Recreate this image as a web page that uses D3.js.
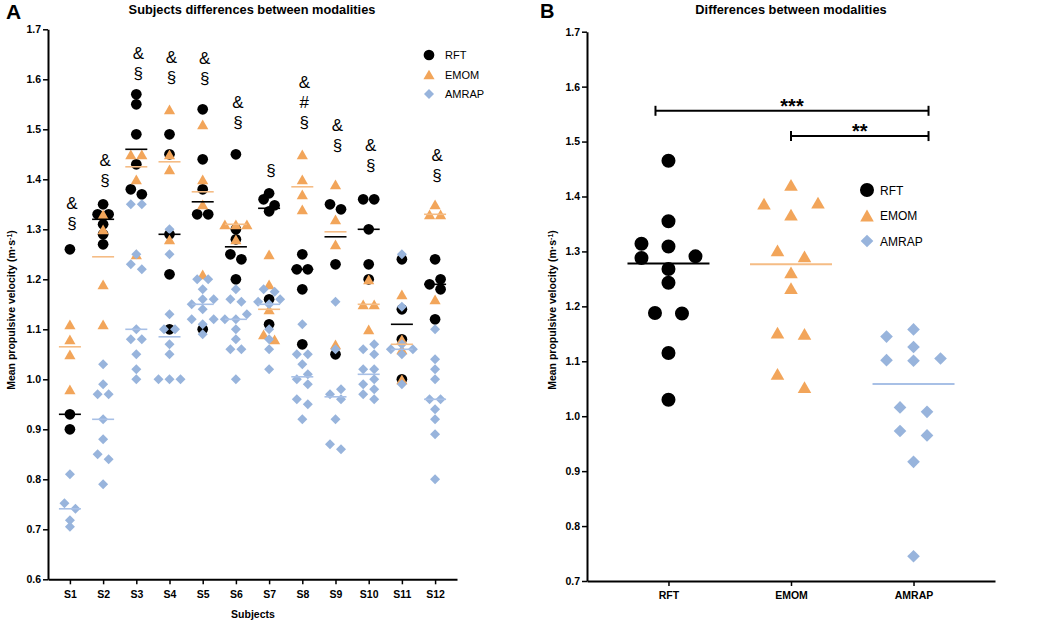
<!DOCTYPE html>
<html><head><meta charset="utf-8">
<script src="https://cdn.jsdelivr.net/npm/d3@7"></script>
<style>body{margin:0;background:#fff} svg{display:block}</style>
</head><body><svg id="c" width="1059" height="622"></svg>
<script>
// ---------------- DATA ----------------
const subjects = ["S1","S2","S3","S4","S5","S6","S7","S8","S9","S10","S11","S12"];
const rftA = [
  [1.26, 0.93, 0.90],
  [1.35, 1.33, 1.33, 1.31, 1.29, 1.27],
  [1.57, 1.55, 1.49, 1.43, 1.38, 1.37],
  [1.49, 1.45, 1.29, 1.21, 1.10],
  [1.54, 1.44, 1.38, 1.33, 1.33, 1.10],
  [1.45, 1.30, 1.28, 1.25, 1.24, 1.20],
  [1.372, 1.36, 1.348, 1.336, 1.16, 1.11],
  [1.25, 1.22, 1.22, 1.18, 1.07],
  [1.35, 1.34, 1.23, 1.05],
  [1.36, 1.36, 1.30, 1.23, 1.20],
  [1.24, 1.14, 1.08, 1.00],
  [1.24, 1.20, 1.19, 1.18, 1.12]
];
const emomA = [
  [1.11, 1.08, 1.05, 0.98],
  [1.33, 1.30, 1.19, 1.11],
  [1.45, 1.45, 1.40, 1.25],
  [1.54, 1.45, 1.42, 1.28],
  [1.51, 1.40, 1.35, 1.21],
  [1.31, 1.31, 1.31, 1.28],
  [1.25, 1.19, 1.14, 1.09, 1.08],
  [1.45, 1.40, 1.37, 1.34],
  [1.39, 1.32, 1.27, 1.07],
  [1.20, 1.15, 1.15, 1.10],
  [1.17, 1.08, 1.06, 1.00],
  [1.35, 1.33, 1.33, 1.16]
];
const amrapA = [
  [0.81, 0.752, 0.741, 0.718, 0.705],
  [1.03, 0.99, 0.97, 0.97, 0.92, 0.88, 0.85, 0.84, 0.79],
  [1.35, 1.35, 1.25, 1.23, 1.22, 1.10, 1.08, 1.08, 1.05, 1.02, 1.00],
  [1.30, 1.25, 1.13, 1.10, 1.10, 1.07, 1.05, 1.00, 1.00, 1.00],
  [1.20, 1.20, 1.18, 1.16, 1.16, 1.15, 1.14, 1.12, 1.12, 1.11, 1.09],
  [1.18, 1.16, 1.155, 1.13, 1.12, 1.12, 1.10, 1.08, 1.06, 1.06, 1.00],
  [1.18, 1.175, 1.16, 1.155, 1.15, 1.10, 1.08, 1.06, 1.02],
  [1.11, 1.05, 1.05, 1.03, 1.01, 1.00, 0.99, 0.96, 0.95, 0.92],
  [1.155, 1.06, 0.98, 0.97, 0.96, 0.92, 0.87, 0.86],
  [1.07, 1.06, 1.05, 1.02, 1.02, 1.00, 0.99, 0.98, 0.97, 0.96],
  [1.25, 1.145, 1.07, 1.06, 1.06, 1.05, 0.99],
  [1.10, 1.04, 1.02, 1.00, 0.96, 0.96, 0.94, 0.92, 0.89, 0.80]
];
const sigA = [["&","§"],["&","§"],["&","§"],["&","§"],["&","§"],["&","§"],["§"],["&","#","§"],["&","§"],["&","§"],[],["&","§"]];
const sigLevelA = [1.313, 1.399, 1.612, 1.605, 1.603, 1.515, 1.419, 1.515, 1.469, 1.429, null, 1.408];
const yTicksA = [0.6,0.7,0.8,0.9,1.0,1.1,1.2,1.3,1.4,1.5,1.6,1.7];

const modalities = ["RFT","EMOM","AMRAP"];
const rftB = [1.465, 1.355, 1.314, 1.309, 1.291, 1.288, 1.268, 1.243, 1.188, 1.187, 1.115, 1.030];
const emomB = [1.421, 1.389, 1.387, 1.367, 1.302, 1.291, 1.262, 1.233, 1.152, 1.150, 1.077, 1.053];
const amrapB = [1.158, 1.145, 1.126, 1.105, 1.102, 1.101, 1.016, 1.008, 0.973, 0.965, 0.917, 0.745];
const comparisons = [
  {from:"RFT", to:"AMRAP", label:"***", level:1.556},
  {from:"EMOM", to:"AMRAP", label:"**", level:1.510}
];
const yTicksB = [0.7,0.8,0.9,1.0,1.1,1.2,1.3,1.4,1.5,1.6,1.7];

// ---------------- STYLE ----------------
const FONT = '"Liberation Sans", Arial, Helvetica, sans-serif';
const COL = {RFT:"#000000", EMOM:"#F2A55A", AMRAP:"#98B4DC"};
const MED = {RFT:"#000000", EMOM:"#F5BC85", AMRAP:"#A8C0E6"};
const SHAPE = {RFT:"circle", EMOM:"triangle", AMRAP:"diamond"};
const SIZE_A = {circle:90, triangle:54, diamond:50};
const SIZE_B = {circle:154, triangle:80, diamond:80};
const barNudge = {"***":[-13,15], "**":[0,15]};

const svg = d3.select("#c").attr("font-family", FONT);

// ---------------- HELPERS ----------------
function symPath(shape, size){
  const t = shape==="circle"?d3.symbolCircle:shape==="triangle"?d3.symbolTriangle:d3.symbolSquare;
  return d3.symbol().type(t).size(size)();
}
function symTransform(shape, size, x, y){
  if(shape==="diamond") return `translate(${x},${y}) rotate(45)`;
  if(shape==="triangle"){ const ty=Math.sqrt(size/(3*Math.sqrt(3))); return `translate(${x},${y+ty/2})`; }
  return `translate(${x},${y})`;
}
// GraphPad-like swarm: spread overlapping points horizontally, then centre each cluster
function swarm(vals, y, step, thr, maxK){
  const pts = vals.map((v,i)=>({v, y:y(v), k:0, i}));
  const parent = pts.map((_,i)=>i);
  const find = i => parent[i]===i ? i : (parent[i]=find(parent[i]));
  const placed = [];
  pts.slice().sort((a,b)=>a.v-b.v).forEach(p=>{
    const near = placed.filter(q=>Math.abs(q.y-p.y)<thr);
    near.forEach(q=>{ parent[find(q.i)] = find(p.i); });
    const c=[0]; for(let k=1;k<=maxK;k++) c.push(-k,k);
    let ch = c.find(k=>!near.some(q=>q.k===k));
    p.k = ch===undefined?0:ch;
    placed.push(p);
  });
  d3.group(pts, p=>find(p.i)).forEach(g=>{
    const sh=(d3.min(g,p=>p.k)+d3.max(g,p=>p.k))/2;
    g.forEach(p=>p.k-=sh);
  });
  return pts.map(p=>({v:p.v, y:p.y, dx:p.k*step}));
}
function styleAxis(g){
  g.attr("font-family", FONT).attr("font-size", 10.5).attr("font-weight","bold");
  g.select(".domain").attr("stroke","#000").attr("stroke-width",2);
  g.selectAll(".tick line").attr("stroke","#000").attr("stroke-width",1.5);
  g.selectAll(".tick text").attr("fill","#000");
}

// ================= PANEL A =================
const xA = d3.scalePoint().domain(subjects).range([48,457]).padding(0.66);
const yA = d3.scaleLinear().domain([0.6,1.7]).range([579.3,29.3]);

const gAy = svg.append("g").attr("transform","translate(48,0)")
  .call(d3.axisLeft(yA).tickValues(yTicksA).tickFormat(d3.format(".1f")).tickSize(5).tickSizeOuter(0).tickPadding(2));
styleAxis(gAy);
const gAx = svg.append("g").attr("transform",`translate(0,${yA(0.6)})`)
  .call(d3.axisBottom(xA).tickSize(5).tickSizeOuter(0).tickPadding(6));
styleAxis(gAx);

const seriesA = [["RFT",rftA],["EMOM",emomA],["AMRAP",amrapA]];
const ptsA = svg.append("g");
seriesA.forEach(([name,data])=>{
  const shape=SHAPE[name], size=SIZE_A[shape];
  data.forEach((vals,i)=>{
    const cx = xA(subjects[i]);
    swarm(vals, yA, 11, 6, 3).forEach(p=>{
      ptsA.append("path").attr("d",symPath(shape,size))
        .attr("transform",symTransform(shape,size,cx+p.dx,p.y))
        .attr("fill",COL[name]);
    });
  });
});
seriesA.forEach(([name,data])=>{
  data.forEach((vals,i)=>{
    const cx=xA(subjects[i]), m=d3.median(vals);
    svg.append("line").attr("x1",cx-11).attr("x2",cx+11).attr("y1",yA(m)).attr("y2",yA(m))
      .attr("stroke",MED[name]).attr("stroke-width",1.6);
  });
});
// significance symbols
sigA.forEach((labs,i)=>{
  if(!labs.length) return;
  const cx = xA(subjects[i])+2, base = yA(sigLevelA[i]);
  labs.forEach((t,j)=>{
    svg.append("text").attr("x",cx).attr("y",base - (labs.length-1-j)*20 + 6)
      .attr("text-anchor","middle").attr("font-size",17).attr("fill","#000").text(t);
  });
});
// legend A
modalities.forEach((name,j)=>{
  const shape=SHAPE[name], size=SIZE_A[shape], ly=55+j*19.5;
  svg.append("path").attr("d",symPath(shape,size)).attr("transform",symTransform(shape,size,429,ly)).attr("fill",COL[name]);
  svg.append("text").attr("x",445).attr("y",ly+4).attr("font-size",11).text(name);
});
// titles A
svg.append("text").attr("x",6).attr("y",19).attr("font-size",21).attr("font-weight","bold").text("A");
svg.append("text").attr("x",252).attr("y",14).attr("text-anchor","middle").attr("font-size",12.8).attr("font-weight","bold")
  .text("Subjects differences between modalities");
svg.append("text").attr("x",253).attr("y",618).attr("text-anchor","middle").attr("font-size",10.5).attr("font-weight","bold").text("Subjects");
function yTitle(x,y){
  const t = svg.append("text").attr("transform",`translate(${x},${y}) rotate(-90)`).attr("text-anchor","middle")
    .attr("font-size",10.5).attr("font-weight","bold");
  t.append("tspan").text("Mean propulsive velocity (m·s");
  t.append("tspan").attr("baseline-shift","super").attr("font-size",7).text("-1");
  t.append("tspan").text(")");
}
yTitle(15,310);

// ================= PANEL B =================
const xB = d3.scalePoint().domain(modalities).range([587,995]).padding(0.665);
const yB = d3.scaleLinear().domain([0.7,1.7]).range([581,31.7]);
const gBy = svg.append("g").attr("transform","translate(587,0)")
  .call(d3.axisLeft(yB).tickValues(yTicksB).tickFormat(d3.format(".1f")).tickSize(5).tickSizeOuter(0).tickPadding(2));
styleAxis(gBy);
const gBx = svg.append("g").attr("transform",`translate(0,${yB(0.7)})`)
  .call(d3.axisBottom(xB).tickSize(5).tickSizeOuter(0).tickPadding(6));
styleAxis(gBx);

const seriesB = [["RFT",rftB],["EMOM",emomB],["AMRAP",amrapB]];
seriesB.forEach(([name,vals])=>{
  const shape=SHAPE[name], size=SIZE_B[shape], cx=xB(name);
  swarm(vals, yB, 27, 13.4, 3).forEach(p=>{
    svg.append("path").attr("d",symPath(shape,size))
      .attr("transform",symTransform(shape,size,cx+p.dx,p.y)).attr("fill",COL[name]);
  });
});
seriesB.forEach(([name,vals])=>{
  const cx=xB(name), m=d3.median(vals);
  svg.append("line").attr("x1",cx-41).attr("x2",cx+41).attr("y1",yB(m)).attr("y2",yB(m))
    .attr("stroke",MED[name]).attr("stroke-width",2);
});
comparisons.forEach(c=>{
  const n=barNudge[c.label]||[0,0];
  const x1=xB(c.from)+n[0], x2=xB(c.to)+n[1], y=yB(c.level);
  svg.append("line").attr("x1",x1).attr("x2",x2).attr("y1",y).attr("y2",y).attr("stroke","#000").attr("stroke-width",2);
  [x1,x2].forEach(x=>svg.append("line").attr("x1",x).attr("x2",x).attr("y1",y-5).attr("y2",y+5).attr("stroke","#000").attr("stroke-width",2));
  svg.append("text").attr("x",(x1+x2)/2).attr("y",y+2).attr("text-anchor","middle").attr("font-size",20).attr("font-weight","bold").text(c.label);
});
// legend B
modalities.forEach((name,j)=>{
  const shape=SHAPE[name], size=SIZE_B[shape], ly=190+j*25.5;
  svg.append("path").attr("d",symPath(shape,size)).attr("transform",symTransform(shape,size,867,ly)).attr("fill",COL[name]);
  svg.append("text").attr("x",880).attr("y",ly+4.5).attr("font-size",12).text(name);
});
svg.append("text").attr("x",540).attr("y",18).attr("font-size",20).attr("font-weight","bold").text("B");
svg.append("text").attr("x",791).attr("y",14).attr("text-anchor","middle").attr("font-size",12.8).attr("font-weight","bold")
  .text("Differences between modalities");
yTitle(556,310);
</script>
</body></html>
